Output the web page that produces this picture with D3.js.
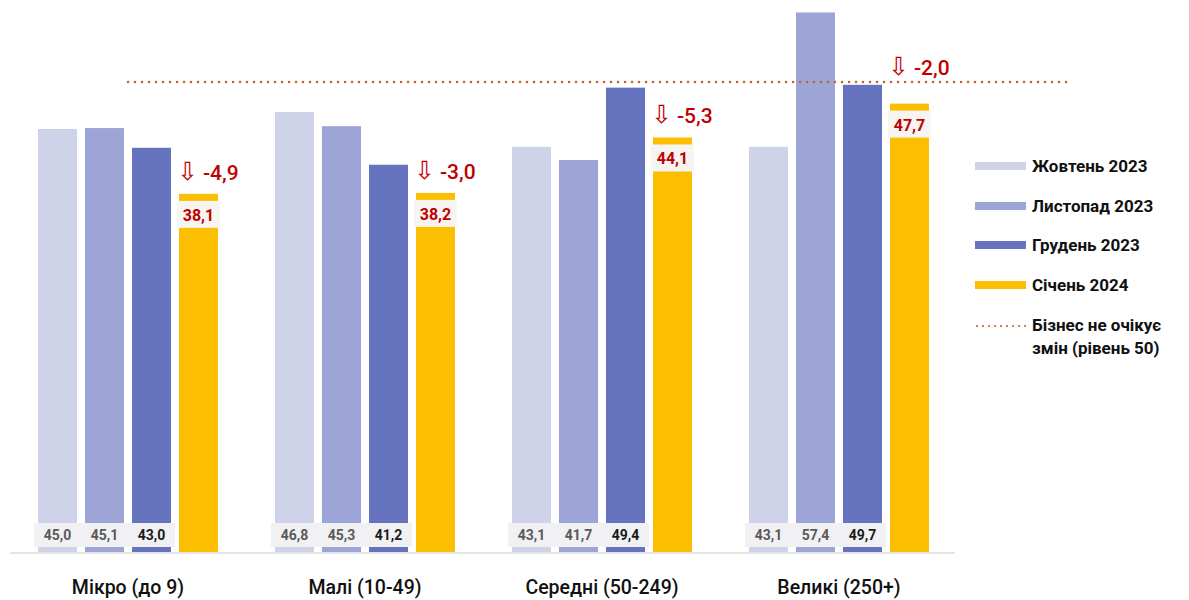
<!DOCTYPE html>
<html>
<head>
<meta charset="utf-8">
<script src="https://cdn.jsdelivr.net/npm/d3@7"></script>
<style>
  html, body { margin: 0; padding: 0; background: #ffffff; }
  svg { display: block; font-family: Roboto, "Noto Sans", sans-serif; }
</style>
</head>
<body>
<svg id="chart" width="1189" height="600"></svg>
<script>
// Business expectations index by company size
const categories = ["Мікро (до 9)", "Малі (10-49)", "Середні (50-249)", "Великі (250+)"];
const seriesNames = ["Жовтень 2023", "Листопад 2023", "Грудень 2023", "Січень 2024"];
const oct2023 = [45.0, 46.8, 43.1, 43.1];
const nov2023 = [45.1, 45.3, 41.7, 57.4];
const dec2023 = [43.0, 41.2, 49.4, 49.7];
const jan2024 = [38.1, 38.2, 44.1, 47.7];
const changes = [-4.9, -3.0, -5.3, -2.0];
const neutralLevel = 50;
const neutralLabel = ["Бізнес не очікує", "змін (рівень 50)"];

const colors = ["#cfd3ea", "#9da5d7", "#6674c0", "#fbbe00"];
const series = [oct2023, nov2023, dec2023, jan2024];

const fmt = v => d3.format(".1f")(v).replace(".", ",").replace("−", "-");

const svg = d3.select("#chart");

const baseline = 552;
const y = d3.scaleLinear().domain([0, neutralLevel]).range([baseline, 82]);

const groupStep = 237, groupWidth = 180;
const x0 = d3.scaleBand().domain(categories)
  .range([38, 38 + groupStep * categories.length - (groupStep - groupWidth)])
  .paddingInner((groupStep - groupWidth) / groupStep).paddingOuter(0);
const x1 = d3.scaleBand().domain(d3.range(4)).range([0, groupWidth]).paddingInner(8 / 47);

// baseline rule
svg.append("line")
  .attr("x1", 10).attr("x2", 955)
  .attr("y1", baseline + 1).attr("y2", baseline + 1)
  .attr("stroke", "#dcdcdc").attr("stroke-width", 1.5);

const groups = svg.selectAll("g.cat")
  .data(categories)
  .join("g")
  .attr("class", "cat")
  .attr("transform", d => `translate(${x0(d)},0)`);

groups.each(function(cat, ci) {
  const g = d3.select(this);
  series.forEach((vals, si) => {
    const v = vals[ci];
    g.append("rect")
      .attr("x", x1(si))
      .attr("y", y(v))
      .attr("width", x1.bandwidth())
      .attr("height", baseline - y(v))
      .attr("fill", colors[si]);
  });

  // value labels at the foot of the first three bars
  for (let si = 0; si < 3; si++) {
    const v = series[si][ci];
    const cx = x1(si) + x1.bandwidth() / 2;
    g.append("rect")
      .attr("x", x1(si) - 4)
      .attr("y", 523)
      .attr("width", x1.bandwidth() + 8)
      .attr("height", 24)
      .attr("fill", "#f1f1f3");
    g.append("text")
      .attr("x", cx)
      .attr("y", 540)
      .attr("text-anchor", "middle")
      .attr("font-size", 14)
      .attr("font-weight", 700)
      .attr("fill", si === 2 ? "#1a1a1a" : "#5a5a5a")
      .text(fmt(v));
  }

  // January value label near the top of the yellow bar
  const vj = jan2024[ci];
  const jx = x1(3);
  const jw = x1.bandwidth();
  g.append("rect")
    .attr("x", jx - 2)
    .attr("y", y(vj) + 7)
    .attr("width", jw + 4)
    .attr("height", 27)
    .attr("fill", "#f6f5f2");
  g.append("text")
    .attr("x", jx + jw / 2)
    .attr("y", y(vj) + 27)
    .attr("text-anchor", "middle")
    .attr("font-size", 16)
    .attr("font-weight", 700)
    .attr("fill", "#c00000")
    .text(fmt(vj));

  // change versus previous month, lifted above the neutral line if they would touch
  let ly = y(vj) - 14;
  if (ly - 16 < y(neutralLevel) + 4) ly = y(neutralLevel) - 7;
  const t = g.append("text")
    .attr("x", jx - 2)
    .attr("y", ly)
    .attr("fill", "#c00000");
  t.append("tspan")
    .attr("font-family", "DejaVu Sans, sans-serif")
    .attr("font-size", 25)
    .text("⇩");
  t.append("tspan")
    .attr("dx", 5)
    .attr("font-size", 21)
    .attr("font-weight", 500)
    .text(fmt(changes[ci]));
});

// neutral level line
svg.append("line")
  .attr("x1", 128).attr("x2", 1072)
  .attr("y1", y(neutralLevel)).attr("y2", y(neutralLevel))
  .attr("stroke", "#c0622a")
  .attr("stroke-width", 2.4)
  .attr("stroke-dasharray", "0.1 6.9")
  .attr("stroke-linecap", "round");

// category axis
const xAxis = d3.axisBottom(x0).tickSize(0).tickPadding(0);
const axisG = svg.append("g")
  .attr("transform", `translate(0,${baseline + 28})`)
  .call(xAxis);
axisG.select(".domain").remove();
axisG.selectAll("text")
  .attr("font-size", 19.5)
  .attr("font-weight", 500)
  .attr("fill", "#111")
  .attr("font-family", "Roboto, sans-serif");

// legend
const legend = svg.append("g").attr("transform", "translate(975,0)");
const rowY = [166, 206, 245, 285];
seriesNames.forEach((name, i) => {
  legend.append("rect")
    .attr("x", 0).attr("y", rowY[i] - 4)
    .attr("width", 51).attr("height", 8)
    .attr("fill", colors[i]);
  legend.append("text")
    .attr("x", 57).attr("y", rowY[i] + 6)
    .attr("font-size", 17)
    .attr("font-weight", 700)
    .attr("fill", "#111")
    .text(name);
});
legend.append("line")
  .attr("x1", 2).attr("x2", 51)
  .attr("y1", 326).attr("y2", 326)
  .attr("stroke", "#c0622a")
  .attr("stroke-width", 2)
  .attr("stroke-dasharray", "0.1 5.9")
  .attr("stroke-linecap", "round");
neutralLabel.forEach((t, i) => {
  legend.append("text")
    .attr("x", 57).attr("y", 331 + i * 23)
    .attr("font-size", 17)
    .attr("font-weight", 700)
    .attr("fill", "#111")
    .text(t);
});
</script>
</body>
</html>
